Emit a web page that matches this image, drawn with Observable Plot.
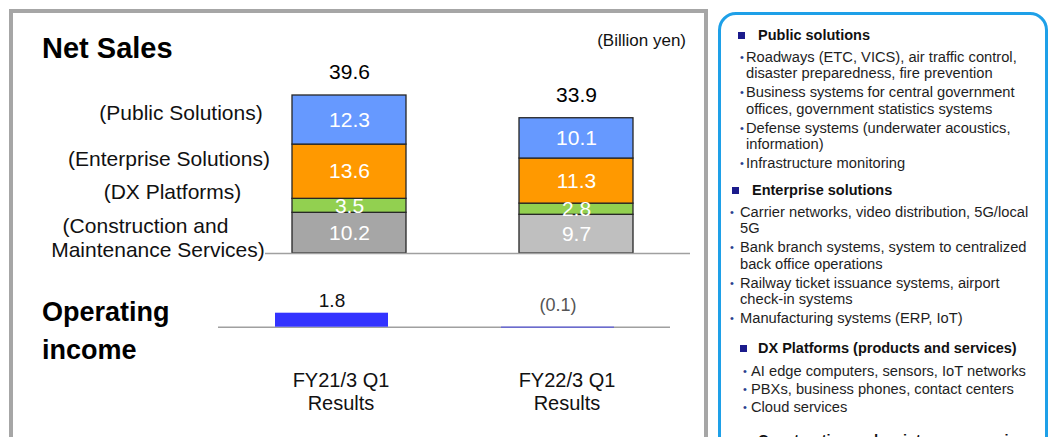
<!DOCTYPE html>
<html>
<head>
<meta charset="utf-8">
<script src="https://cdn.jsdelivr.net/npm/d3@7"></script>
<script src="https://cdn.jsdelivr.net/npm/@observablehq/plot@0.6"></script>
<style>
  html, body { margin: 0; padding: 0; background: #fff; }
  body { width: 1050px; height: 437px; overflow: hidden; position: relative;
         font-family: "Liberation Sans", Arial, Helvetica, sans-serif; color: #000; }
  .t { position: absolute; white-space: nowrap; line-height: 1; }
  .c { transform: translateX(-50%); }
  .r { transform: translateX(-100%); }
  #leftbox { position: absolute; left: 9px; top: 9px; width: 699px; height: 480px;
             box-sizing: border-box; border: 4.5px solid #a6a6a6; }
  #rightbox { position: absolute; left: 718px; top: 12px; width: 330px; height: 480px;
              box-sizing: border-box; border: 3px solid #1ea0e8; border-radius: 18px; }
  .plotwrap { position: absolute; left: 0; }
  .pl { position: absolute; white-space: nowrap; font-size: 14.7px; line-height: 16.5px; color: #1e1e1e; }
  .hd { font-weight: bold; color: #111; font-size: 14.5px; }
  .sq { position: absolute; width: 7px; height: 7px; background: #1b1b8c; }
  .bul { position: absolute; font-size: 11px; line-height: 16.5px; color: #2b3f8f; }
</style>
</head>
<body>
<div id="leftbox"></div>
<div id="rightbox"></div>
<div id="sales" class="plotwrap" style="top:0px"></div>
<div id="income" class="plotwrap" style="top:280px"></div>
<div id="texts"></div>
<script>
// ---------------- data ----------------
const periods = ["FY21/3 Q1", "FY22/3 Q1"];
const periodSuffix = "Results";
const segments = ["Construction and Maintenance Services", "DX Platforms", "Enterprise Solutions", "Public Solutions"];
const constructionMaintenance = [10.2, 9.7];
const dxPlatforms = [3.5, 2.8];
const enterpriseSolutions = [13.6, 11.3];
const publicSolutions = [12.3, 10.1];
const netSalesTotal = [39.6, 33.9];
const operatingIncome = [1.8, -0.1];

const panelTitles = ["Public solutions", "Enterprise solutions", "DX Platforms (products and services)", "Construction and maintenance services"];
const panelItems = [
  [["Roadways (ETC, VICS), air traffic control,", "disaster preparedness, fire prevention"],
   ["Business systems for central government", "offices, government statistics systems"],
   ["Defense systems (underwater acoustics,", "information)"],
   ["Infrastructure monitoring"]],
  [["Carrier networks, video distribution, 5G/local", "5G"],
   ["Bank branch systems, system to centralized", "back office operations"],
   ["Railway ticket issuance systems, airport", "check-in systems"],
   ["Manufacturing systems (ERP, IoT)"]],
  [["AI edge computers, sensors, IoT networks"],
   ["PBXs, business phones, contact centers"],
   ["Cloud services"]],
  []
];

// ---------------- tables ----------------
const seriesValues = [constructionMaintenance, dxPlatforms, enterpriseSolutions, publicSolutions];
const rows = periods.flatMap((p, i) => segments.map((s, j) => ({period: p, index: i, segment: s, value: seriesValues[j][i]})));
const totals = periods.map((p, i) => ({period: p, total: netSalesTotal[i]}));
const income = periods.map((p, i) => ({period: p, value: operatingIncome[i]}));

const segColor = {
  "Public Solutions": ["#6699ff", "#6699ff"],
  "Enterprise Solutions": ["#ff9900", "#ff9900"],
  "DX Platforms": ["#92d050", "#92d050"],
  "Construction and Maintenance Services": ["#a6a6a6", "#bfbfbf"]
};
const FONT = '"Liberation Sans", Arial, Helvetica, sans-serif';

// ---------------- net sales chart ----------------
const sales = Plot.plot({
  width: 710, height: 270,
  marginLeft: 265, marginRight: 20, marginTop: 73.45, marginBottom: 17,
  x: {domain: periods, paddingInner: 0.5, paddingOuter: 0.184, align: 0.322, axis: null},
  y: {domain: [0, 45], axis: null},
  color: {type: "identity"},
  style: {background: "transparent", fontFamily: FONT, overflow: "visible"},
  marks: [
    Plot.barY(rows, {x: "period", y: "value", z: "segment", order: segments,
      fill: d => segColor[d.segment][d.index], stroke: "#262626", strokeWidth: 1.3}),
    Plot.text(rows, Plot.stackY({x: "period", y: "value", z: "segment", order: segments,
      text: d => d.value.toFixed(1), fill: "white", fontSize: 21})),
    Plot.text(totals, {x: "period", y: "total", text: d => d.total.toFixed(1), dy: -23, fontSize: 21, fill: "#000"}),
    Plot.ruleY([0], {stroke: "#a0a0a0", strokeWidth: 1.5})
  ]
});
document.getElementById("sales").append(sales);

// ---------------- operating income chart ----------------
const inc = Plot.plot({
  width: 710, height: 157,
  marginLeft: 218, marginRight: 40, marginTop: 15.6, marginBottom: 110.3,
  x: {domain: periods, paddingInner: 0.5, paddingOuter: 0.25, align: 0.5, label: null},
  y: {domain: [0, 4], axis: null},
  style: {background: "transparent", fontFamily: FONT, overflow: "visible"},
  marks: [
    Plot.ruleY([0], {stroke: "#a0a0a0", strokeWidth: 1.5}),
    Plot.barY(income, {x: "period", y: "value", fill: "#3333ff"}),
    Plot.text(income.filter(d => d.value >= 0), {x: "period", y: "value",
      text: d => d.value.toFixed(1), dy: -12, fontSize: 19, fill: "#111"}),
    Plot.text(income.filter(d => d.value < 0), {x: "period", y: () => 0,
      text: d => "(" + Math.abs(d.value).toFixed(1) + ")", dy: -21.7, fontSize: 18, fill: "#555"}),
    Plot.axisX({tickSize: 0, tickPadding: 44, label: null, fontSize: 20, dx: 9, lineHeight: 1.13,
      fill: "#111", tickFormat: d => d + "\n" + periodSuffix})
  ]
});
document.getElementById("income").append(inc);

// ---------------- html texts ----------------
const host = document.getElementById("texts");
function put(text, {x, cy, size, weight = "normal", align = "l", color = "#000"}) {
  const el = document.createElement("div");
  el.className = "t" + (align === "c" ? " c" : align === "r" ? " r" : "");
  el.textContent = text;
  el.style.left = x + "px";
  el.style.top = (cy - 0.4885 * size) + "px";
  el.style.fontSize = size + "px";
  el.style.fontWeight = weight;
  el.style.color = color;
  host.append(el);
}
put("Net Sales", {x: 42, cy: 48.5, size: 29, weight: "bold"});
put("(Billion yen)", {x: 686, cy: 40.5, size: 17, align: "r", color: "#111"});
put("(Public Solutions)", {x: 181, cy: 112.5, size: 21, align: "c", color: "#111"});
put("(Enterprise Solutions)", {x: 169, cy: 158, size: 21, align: "c", color: "#111"});
put("(DX Platforms)", {x: 172.5, cy: 191, size: 21, align: "c", color: "#111"});
put("(Construction and", {x: 145.5, cy: 225, size: 21, align: "c", color: "#111"});
put("Maintenance Services)", {x: 158, cy: 249, size: 21, align: "c", color: "#111"});
put("Operating", {x: 42, cy: 311.7, size: 27, weight: "bold"});
put("income", {x: 42, cy: 350.5, size: 27, weight: "bold"});

// right panel
const layout = [
  {headerCy: 35, sqX: 738, hX: 758, bX: 740, iX: 746, firstCy: 57, gap: 19},
  {headerCy: 190, sqX: 732, hX: 752, bX: 730, iX: 740, firstCy: 212, gap: 19},
  {headerCy: 348, sqX: 740, hX: 758, bX: 743, iX: 751, firstCy: 371, gap: 18},
  {headerCy: 440, sqX: 740, hX: 758, bX: 743, iX: 751, firstCy: 460, gap: 19}
];
const LH = 16.5;
function line(text, x, cy, cls) {
  const el = document.createElement("div");
  el.className = cls;
  el.textContent = text;
  el.style.left = x + "px";
  el.style.top = (cy - LH / 2) + "px";
  host.append(el);
}
panelTitles.forEach((title, k) => {
  const L = layout[k];
  const sq = document.createElement("div");
  sq.className = "sq";
  sq.style.left = L.sqX + "px";
  sq.style.top = (L.headerCy - 3.5) + "px";
  host.append(sq);
  line(title, L.hX, L.headerCy, "pl hd");
  let cy = L.firstCy;
  panelItems[k].forEach(item => {
    line("•", L.bX, cy, "bul");
    item.forEach((ln, m) => {
      line(ln, L.iX, cy, "pl");
      if (m < item.length - 1) cy += LH;
    });
    cy += L.gap;
  });
});
</script>
</body>
</html>
